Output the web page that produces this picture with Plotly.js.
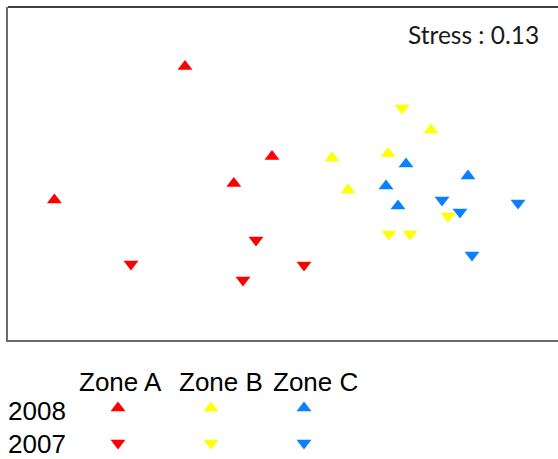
<!DOCTYPE html>
<html>
<head>
<meta charset="utf-8">
<script src="https://cdn.plot.ly/plotly-3.0.1.min.js"></script>
<style>html,body{margin:0;padding:0;background:#fff;}#chart{width:558px;height:459px;}</style>
</head>
<body>
<div id="chart"></div>
<script>
// NMDS coordinates
const zones = ["Zone A", "Zone B", "Zone C"];
const years = ["2008", "2007"];
const zoneColors = ["#FF0000", "#FFFF00", "#0A80FF"];

const zoneA2008X = [-0.615, -0.18, -0.371, -1.268];
const zoneA2008Y = [0.367, -0.083, -0.217, -0.30];
const zoneA2007X = [-0.26, -0.885, -0.02, -0.325];
const zoneA2007Y = [-0.50, -0.62, -0.625, -0.70];

const zoneB2008X = [0.615, 0.12, 0.40, 0.20];
const zoneB2008Y = [0.05, -0.09, -0.067, -0.25];
const zoneB2007X = [0.47, 0.70, 0.405, 0.51];
const zoneB2007Y = [0.16, -0.38, -0.47, -0.47];

const zoneC2008X = [0.49, 0.80, 0.39, 0.45];
const zoneC2008Y = [-0.12, -0.18, -0.23, -0.33];
const zoneC2007X = [0.67, 0.76, 1.05, 0.82];
const zoneC2007Y = [-0.30, -0.36, -0.315, -0.575];

const stressText = "Stress : 0.13";

const groups = [
  {x: zoneA2008X, y: zoneA2008Y, zone: 0, year: 0},
  {x: zoneA2007X, y: zoneA2007Y, zone: 0, year: 1},
  {x: zoneB2008X, y: zoneB2008Y, zone: 1, year: 0},
  {x: zoneB2007X, y: zoneB2007Y, zone: 1, year: 1},
  {x: zoneC2008X, y: zoneC2008Y, zone: 2, year: 0},
  {x: zoneC2007X, y: zoneC2007Y, zone: 2, year: 1}
];
const symbols = ["triangle-up", "triangle-down"];
const MS = 13;

const traces = groups.map(g => ({
  type: "scatter", mode: "markers",
  x: g.x, y: g.y, xaxis: "x", yaxis: "y",
  marker: {symbol: symbols[g.year], color: zoneColors[g.zone], size: MS, line: {width: 0}},
  name: zones[g.zone] + " " + years[g.year],
  hoverinfo: "skip", showlegend: false
}));

// custom legend in a pixel-like auxiliary axis (x2/y2) below the plot
const W = 558, H = 459, ML = 8, MT = 7, plotBottom = 340;
const legColX = [118, 211, 304];
const legRowY = [408, 443];
const legHeadY = 382;
const headX = [120, 221, 315];
const rowLabelX = 37;
const rowLabelY = [411, 444];

for (let z = 0; z < zones.length; z++) {
  for (let yr = 0; yr < years.length; yr++) {
    traces.push({
      type: "scatter", mode: "markers", xaxis: "x2", yaxis: "y2",
      x: [legColX[z]], y: [legRowY[yr]],
      marker: {symbol: symbols[yr], color: zoneColors[z], size: MS, line: {width: 0}},
      hoverinfo: "skip", showlegend: false
    });
  }
}

const annotations = [];
zones.forEach((z, i) => annotations.push({
  xref: "x2", yref: "y2", x: headX[i], y: legHeadY, text: z, showarrow: false,
  xanchor: "center", yanchor: "middle",
  font: {family: "Liberation Sans, Arial, sans-serif", size: 26, color: "#000"}
}));
years.forEach((yv, i) => annotations.push({
  xref: "x2", yref: "y2", x: rowLabelX, y: rowLabelY[i], text: yv, showarrow: false,
  xanchor: "center", yanchor: "middle",
  font: {family: "Liberation Sans, Arial, sans-serif", size: 26, color: "#000"}
}));
annotations.push({
  xref: "paper", yref: "paper", x: (541 - ML) / (W - ML), y: (H - 35) / (H - MT),
  text: stressText, showarrow: false, xanchor: "right", yanchor: "middle",
  font: {family: "Lato, Open Sans, sans-serif", size: 24.5, color: "#1a1a1a"}
});

const splitFrac = (H - plotBottom) / (H - MT);

const layout = {
  width: W, height: H,
  margin: {l: ML, r: 0, t: MT, b: 0, pad: 0},
  paper_bgcolor: "#fff", plot_bgcolor: "#fff",
  showlegend: false,
  xaxis: {range: [-1.5, 1.25], domain: [0, 1], anchor: "y", showgrid: false, zeroline: false,
          showticklabels: false, ticks: "", showline: true, linecolor: "#6b6b6b", linewidth: 2, fixedrange: true},
  yaxis: {range: [-1.0, 0.665], domain: [splitFrac, 1], anchor: "x", showgrid: false, zeroline: false,
          showticklabels: false, ticks: "", showline: true, linecolor: "#6b6b6b", linewidth: 2, fixedrange: true},
  xaxis2: {range: [ML, W], domain: [0, 1], anchor: "y2", visible: false, fixedrange: true},
  yaxis2: {range: [H, plotBottom], domain: [0, splitFrac], anchor: "x2", visible: false, fixedrange: true},
  shapes: [{type: "line", xref: "paper", yref: "paper", x0: 0, x1: 1, y0: 1, y1: 1,
            line: {color: "#000", width: 1.5}}],
  annotations: annotations
};

Plotly.newPlot("chart", traces, layout, {displayModeBar: false, staticPlot: true});
</script>
</body>
</html>
